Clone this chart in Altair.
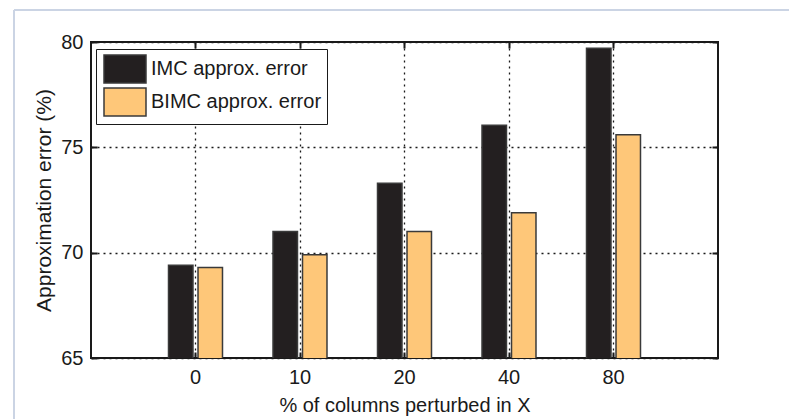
import altair as alt
import pandas as pd

# Grouped bar chart: approximation error of IMC vs BIMC for several perturbation levels
categories = ["0", "10", "20", "40", "80"]
methods = ["IMC approx. error", "BIMC approx. error"]
imc_error = [69.4, 71.0, 73.3, 76.05, 79.7]
bimc_error = [69.3, 69.9, 71.0, 71.9, 75.6]
y_ticks = [65, 70, 75, 80]
bar_colors = ["#231f20", "#fec779"]

rows = []
for c, a, b in zip(categories, imc_error, bimc_error):
    rows.append({"pct": c, "method": methods[0], "value": a})
    rows.append({"pct": c, "method": methods[1], "value": b})
df = pd.DataFrame(rows)

FONT = "Liberation Sans"
INK = "#1a1a1a"
grid_style = dict(grid=True, gridDash=[2, 4], gridColor=INK, gridWidth=1.3, gridOpacity=1)
tick_style = dict(ticks=True, tickSize=6, offset=-6, tickColor=INK, tickWidth=2, domain=False)

x_scale = alt.Scale(paddingInner=0, paddingOuter=0.5)
y_scale = alt.Scale(domain=[65, 80], zero=False, nice=False)

x_axis = alt.Axis(
    orient="bottom", title="% of columns perturbed in X", labelAngle=0,
    bandPosition=0.5, labelPadding=9, titlePadding=8,
    labelFont=FONT, labelFontSize=20, labelColor=INK,
    titleFont=FONT, titleFontSize=20, titleFontWeight="normal", titleColor=INK,
    **grid_style, **tick_style,
)
y_axis = alt.Axis(
    orient="left", values=y_ticks, title="Approximation error (%)",
    labelPadding=8, titlePadding=6,
    labelFont=FONT, labelFontSize=20, labelColor=INK,
    titleFont=FONT, titleFontSize=21, titleFontWeight="normal", titleColor=INK,
    **grid_style, **tick_style,
)

# Rectangular legend swatches (3:2), wider than the nominal symbol size
legend = alt.Legend(
    title=None, orient="none", legendX=5, legendY=7,
    fillColor="white", strokeColor=INK, padding=5,
    symbolType="M-1.5,-1H1.5V1H-1.5Z", symbolSize=784, symbolOffset=9,
    symbolStrokeColor="#3a3a3a", symbolStrokeWidth=1.5, symbolOpacity=1,
    labelFont=FONT, labelFontSize=20, labelColor=INK, labelOffset=11,
    rowPadding=-1, labelLimit=300,
)

bars = alt.Chart(df).mark_bar(stroke="#3a3a3a", strokeWidth=1.5, clip=True).encode(
    x=alt.X("pct:N", sort=categories, scale=x_scale, axis=x_axis),
    xOffset=alt.XOffset("method:N", sort=methods,
                        scale=alt.Scale(paddingInner=0.17, paddingOuter=0.856)),
    y=alt.Y("value:Q", scale=y_scale, axis=y_axis),
    fill=alt.Fill("method:N", sort=methods,
                  scale=alt.Scale(domain=methods, range=bar_colors), legend=legend),
)

# Invisible layer that carries the inward ticks on the top and right edges
edge_ticks = alt.Chart(df).mark_point(opacity=0).encode(
    x=alt.X("pct:N", sort=categories,
            axis=alt.Axis(orient="top", bandPosition=0.5, labels=False, title=None,
                          grid=False, **tick_style)),
    y=alt.Y("value:Q", scale=y_scale,
            axis=alt.Axis(orient="right", values=y_ticks, labels=False, title=None,
                          grid=False, **tick_style)),
)

# Light page frame on the left and top
frame = alt.Chart(pd.DataFrame({"k": [0]}))
frame_left = frame.mark_rule(color="#cbd4e4", strokeWidth=2, clip=False).encode(
    x=alt.value(-77), y=alt.value(-32), y2=alt.value(400))
frame_top = frame.mark_rule(color="#cbd4e4", strokeWidth=2, clip=False).encode(
    x=alt.value(-77), x2=alt.value(720), y=alt.value(-32))

chart = alt.layer(frame_left, frame_top, bars, edge_ticks).resolve_axis(
    x="independent", y="independent"
).properties(
    width=627, height=316,
    autosize=alt.AutoSizeParams(type="none"),
    padding={"left": 91, "top": 42, "right": 71, "bottom": 61},
    background="white",
).configure_view(stroke=INK, strokeWidth=2)

chart.save("out.html", embed_options={"renderer": "svg", "actions": False})
